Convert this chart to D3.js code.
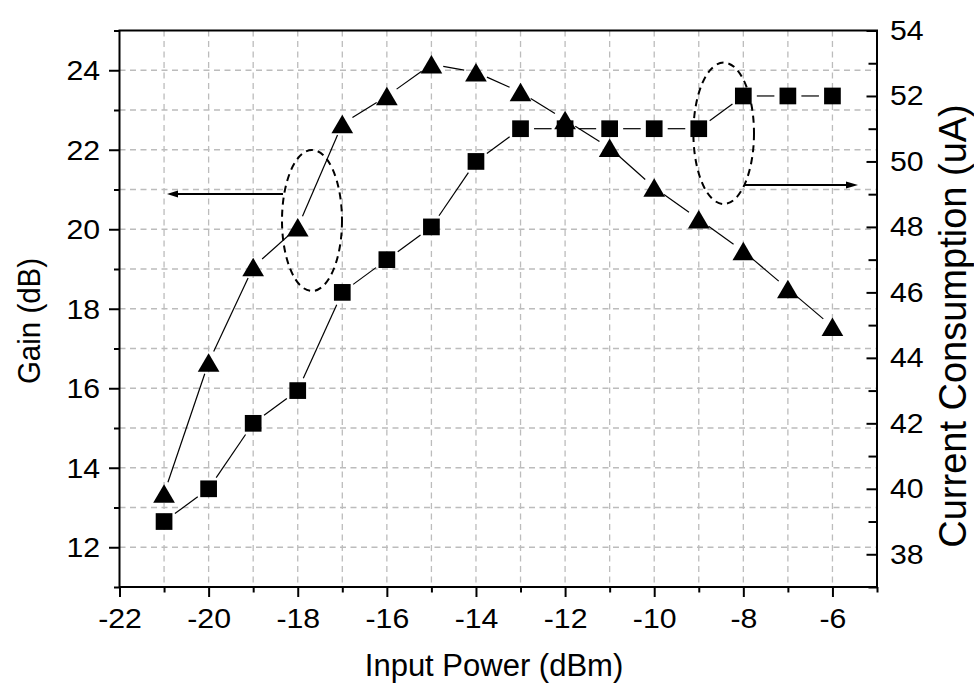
<!DOCTYPE html>
<html>
<head>
<meta charset="utf-8">
<script src="https://cdn.jsdelivr.net/npm/d3@7"></script>
<style>
  html, body { margin: 0; padding: 0; background: #fff; }
  svg { display: block; }
  text { font-family: "Liberation Sans", Arial, sans-serif; fill: #000; }
</style>
</head>
<body>
<svg id="chart" width="974" height="691"></svg>
<script>
// Input power sweep (dBm)
const inputPower = [-21, -20, -19, -18, -17, -16, -15, -14, -13, -12, -11, -10, -9, -8, -7, -6];
// Gain (dB), left axis
const gain = [13.35, 16.65, 19.05, 20.05, 22.65, 23.35, 24.15, 23.95, 23.45, 22.75, 22.05, 21.05, 20.25, 19.45, 18.5, 17.55];
// Current consumption (uA), right axis
const current = [39, 40, 42, 43, 46, 47, 48, 50, 51, 51, 51, 51, 51, 52, 52, 52];

// Tick values
const xMajorTicks = [-22, -20, -18, -16, -14, -12, -10, -8, -6];
const xMinorTicks = [-21, -19, -17, -15, -13, -11, -9, -7, -5];
const gainMajorTicks = [12, 14, 16, 18, 20, 22, 24];
const gainMinorTicks = [11, 13, 15, 17, 19, 21, 23, 25];
const currentMajorTicks = [38, 40, 42, 44, 46, 48, 50, 52, 54];
const currentMinorTicks = [37, 39, 41, 43, 45, 47, 49, 51, 53];
const xGridValues = d3.range(-21, -5);
const gainGridValues = d3.range(12, 25);

const svg = d3.select("#chart");
const L = 119.5, R = 877, T = 30.5, B = 587;
const SX = 1.1;           // horizontal widening of the tick numerals
const tickFont = 27.5;
const plainNumber = d => String(d);   // ASCII hyphen for negatives

const x = d3.scaleLinear().domain([-22, -5]).range([L, R]);
const yGain = d3.scaleLinear().domain([11, 25]).range([B, T]);
const yCur = d3.scaleLinear().domain([37, 54]).range([B, T]);

svg.append("rect").attr("width", 974).attr("height", 691).attr("fill", "#fff");

// dashed grid
const grid = svg.append("g")
  .attr("stroke", "#bcbcbc").attr("stroke-width", 1.3)
  .attr("stroke-dasharray", "6,4.5").attr("fill", "none");
grid.selectAll("line.v").data(xGridValues).join("line")
  .attr("x1", d => x(d)).attr("x2", d => x(d))
  .attr("y1", T).attr("y2", B);
grid.selectAll("line.h").data(gainGridValues).join("line")
  .attr("x1", L).attr("x2", R)
  .attr("y1", d => yGain(d)).attr("y2", d => yGain(d));

// axes
function styleAxis(g) {
  g.attr("font-size", tickFont).attr("font-family", '"Liberation Sans", Arial, sans-serif');
  g.select(".domain").remove();
  g.selectAll(".tick line").attr("stroke", "#000").attr("stroke-width", 2);
  g.selectAll(".tick text").attr("font-size", tickFont).attr("fill", "#000");
}

// bottom
svg.append("g").attr("transform", `translate(0,${B})`)
  .call(d3.axisBottom(x).tickValues(xMinorTicks).tickSize(5.5).tickFormat(""))
  .call(styleAxis);
const xAxisG = svg.append("g").attr("transform", `translate(0,${B})`)
  .call(d3.axisBottom(x).tickValues(xMajorTicks).tickSize(10).tickFormat(plainNumber))
  .call(styleAxis);
xAxisG.selectAll(".tick text")
  .attr("y", 41).attr("dy", 0)
  .attr("transform", `scale(${SX},1)`);

// left
svg.append("g").attr("transform", `translate(${L},0)`)
  .call(d3.axisLeft(yGain).tickValues(gainMinorTicks).tickSize(5.5).tickFormat(""))
  .call(styleAxis);
const yAxisG = svg.append("g").attr("transform", `translate(${L},0)`)
  .call(d3.axisLeft(yGain).tickValues(gainMajorTicks).tickSize(10.5).tickFormat(plainNumber))
  .call(styleAxis);
yAxisG.selectAll(".tick text")
  .attr("x", -19.5 / SX).attr("dy", "0.34em")
  .attr("transform", `scale(${SX},1)`);

// right (ticks point into the plot)
svg.append("g").attr("transform", `translate(${R},0)`)
  .call(d3.axisLeft(yCur).tickValues(currentMinorTicks).tickSize(8.5).tickFormat(""))
  .call(styleAxis);
const rAxisG = svg.append("g").attr("transform", `translate(${R},0)`)
  .call(d3.axisLeft(yCur).tickValues(currentMajorTicks).tickSize(10.5).tickFormat(plainNumber))
  .call(styleAxis);
rAxisG.selectAll(".tick text")
  .attr("x", 13 / SX).attr("dy", "0.32em")
  .attr("text-anchor", "start")
  .attr("transform", `scale(${SX},1)`);

// frame
svg.append("rect")
  .attr("x", L).attr("y", T).attr("width", R - L).attr("height", B - T)
  .attr("fill", "none").attr("stroke", "#000").attr("stroke-width", 2);

// connecting lines with a gap around each symbol
function gappedSegments(pts, gap) {
  const segs = [];
  for (let i = 0; i < pts.length - 1; i++) {
    const [x1, y1] = pts[i], [x2, y2] = pts[i + 1];
    const dx = x2 - x1, dy = y2 - y1, len = Math.hypot(dx, dy);
    if (len <= 2 * gap) continue;
    const ux = dx / len, uy = dy / len;
    segs.push([x1 + ux * gap, y1 + uy * gap, x2 - ux * gap, y2 - uy * gap]);
  }
  return segs;
}
function drawLine(pts, gap) {
  svg.append("g").selectAll("line").data(gappedSegments(pts, gap)).join("line")
    .attr("x1", d => d[0]).attr("y1", d => d[1])
    .attr("x2", d => d[2]).attr("y2", d => d[3])
    .attr("stroke", "#000").attr("stroke-width", 1.2);
}

const gainPts = inputPower.map((p, i) => [x(p), yGain(gain[i])]);
const curPts = inputPower.map((p, i) => [x(p), yCur(current[i])]);
drawLine(gainPts, 12);
drawLine(curPts, 13.5);

// square symbols: current
const sq = 16.7;
svg.append("g").selectAll("rect").data(curPts).join("rect")
  .attr("x", d => d[0] - sq / 2).attr("y", d => d[1] - sq / 2)
  .attr("width", sq).attr("height", sq).attr("fill", "#000");

// triangle symbols: gain
const tw = 21.7, th = 18.5;
const triPath = `M0,${-th / 2}L${tw / 2},${th / 2}L${-tw / 2},${th / 2}Z`;
svg.append("g").selectAll("path").data(gainPts).join("path")
  .attr("d", triPath)
  .attr("transform", d => `translate(${d[0]},${d[1]})`)
  .attr("fill", "#000");

// dashed ellipses marking each curve, with arrows toward its axis
const ann = svg.append("g");
ann.append("ellipse").attr("cx", 312).attr("cy", 220.5).attr("rx", 30).attr("ry", 70.5)
  .attr("fill", "none").attr("stroke", "#000").attr("stroke-width", 2).attr("stroke-dasharray", "7,5");
ann.append("ellipse").attr("cx", 723.7).attr("cy", 133.3).attr("rx", 30.3).attr("ry", 70.7)
  .attr("fill", "none").attr("stroke", "#000").attr("stroke-width", 2).attr("stroke-dasharray", "7,5");

ann.append("line").attr("x1", 283).attr("y1", 194).attr("x2", 176).attr("y2", 194)
  .attr("stroke", "#000").attr("stroke-width", 1.8);
ann.append("path").attr("d", "M167,194L178,190.5L178,197.5Z").attr("fill", "#000");
ann.append("line").attr("x1", 744).attr("y1", 185).attr("x2", 848).attr("y2", 185)
  .attr("stroke", "#000").attr("stroke-width", 1.8);
ann.append("path").attr("d", "M858,185L846,181.5L846,188.5Z").attr("fill", "#000");

// axis titles
svg.append("text")
  .attr("transform", `translate(494,676)`)
  .attr("text-anchor", "middle").attr("font-size", 31)
  .text("Input Power (dBm)");
svg.append("text")
  .attr("transform", `translate(39.5,321) scale(1.08,1) rotate(-90)`)
  .attr("text-anchor", "middle").attr("font-size", 29.5)
  .text("Gain (dB)");
svg.append("text")
  .attr("transform", `translate(966,326) rotate(-90)`)
  .attr("text-anchor", "middle").attr("font-size", 38)
  .text("Current Consumption (uA)");
</script>
</body>
</html>
